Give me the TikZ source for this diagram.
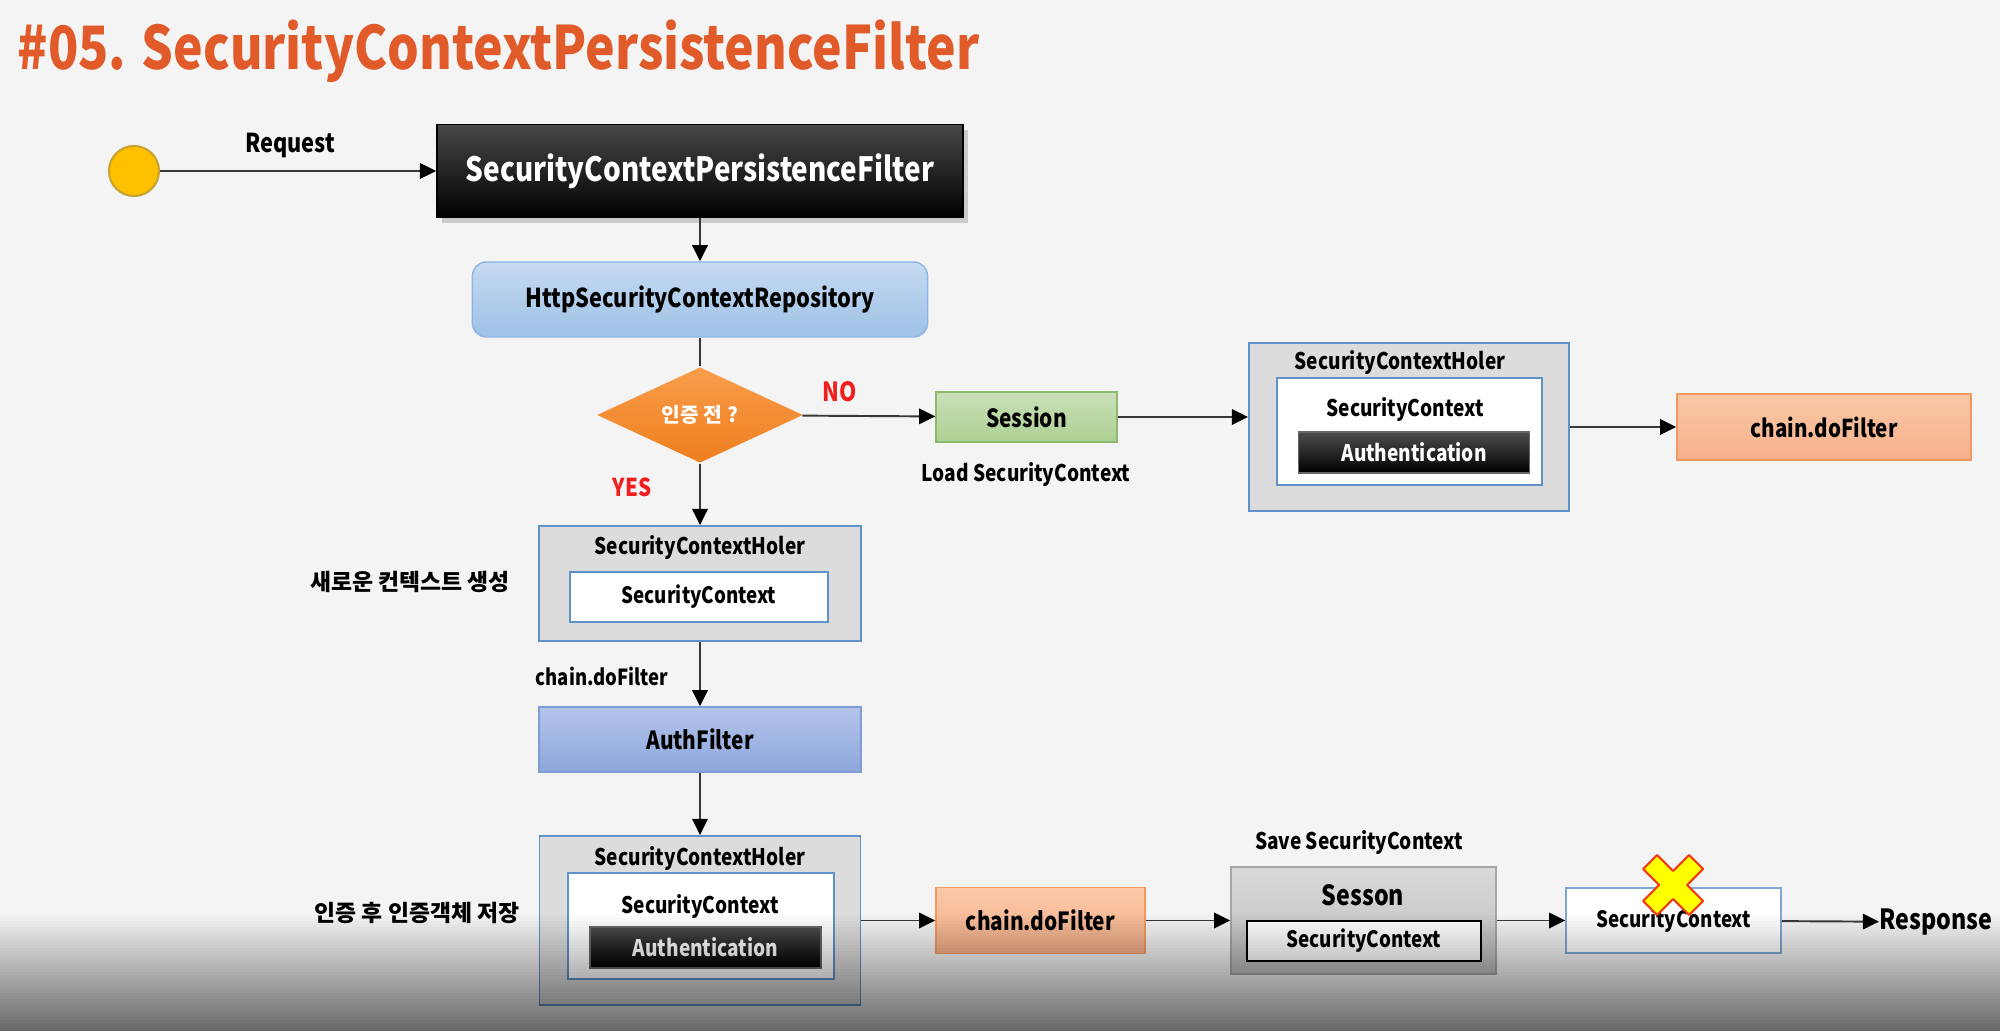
\documentclass[tikz,border=0pt]{standalone}
\usepackage{fontspec}
\setmainfont{Noto Sans CJK KR}[FakeStretch=0.835]
\newfontfamily\kr{Noto Sans CJK KR}
\usetikzlibrary{arrows.meta,shapes.geometric,shadows}
\newcommand{\pts}[1]{\fontsize{#1}{#1}\selectfont}
\definecolor{bgc}{HTML}{F4F4F4}
\definecolor{titlec}{HTML}{E05A2A}
\definecolor{dotc}{HTML}{FFC000}
\definecolor{dotl}{HTML}{C8A232}
\definecolor{repot}{HTML}{C6DAF2}
\definecolor{repob}{HTML}{9DC1E6}
\definecolor{repol}{HTML}{8DB4E2}
\definecolor{askt}{HTML}{F99D4B}
\definecolor{askb}{HTML}{EE7E1E}
\definecolor{sesst}{HTML}{C9E0B7}
\definecolor{sessb}{HTML}{ADD093}
\definecolor{sessl}{HTML}{8CB870}
\definecolor{holdc}{HTML}{DCDCDC}
\definecolor{holdl}{HTML}{5E92C8}
\definecolor{chaint}{HTML}{FAC8A8}
\definecolor{chainb}{HTML}{F6B089}
\definecolor{chainl}{HTML}{F29A5E}
\definecolor{autht}{HTML}{B3C4EA}
\definecolor{authb}{HTML}{8DA7DC}
\definecolor{authl}{HTML}{7E9CD6}
\definecolor{ssont}{HTML}{D9D9D9}
\definecolor{ssonb}{HTML}{BDBDBD}
\definecolor{noc}{HTML}{F01E1E}
\definecolor{xfill}{HTML}{FFFF00}
\definecolor{xline}{HTML}{F03C14}

\begin{document}
\begin{tikzpicture}[x=0.01cm, y=-0.01cm,
    >={Triangle[length=4.6pt, width=4.4pt, color=black]},
    box/.style={draw, inner sep=0pt, text centered, text=black, font=\bfseries\pts{7}},
    holder/.style={box, fill=holdc, draw=holdl, line width=0.5pt},
    inbox/.style={box, fill=white, draw=holdl, line width=0.5pt},
    authbox/.style={box, top color=black!70, middle color=black, bottom color=black,
                    draw=black!60, text=white, font=\bfseries\pts{6.5},
                    minimum width=2.31cm, minimum height=0.41cm},
    chainbox/.style={box, top color=chaint, bottom color=chainb, draw=chainl,
                     minimum height=0.66cm},
    lbl/.style={inner sep=0pt, font=\bfseries\pts{6.5}},
    krlbl/.style={inner sep=0pt, font=\kr\bfseries\pts{6.5}},
    flow/.style={every edge/.append style={draw=black!78, line width=0.55pt}}]
	\fill[bgc] (0,0) rectangle (2000,1031);
	\useasboundingbox (0,0) rectangle (2000,1031);

	\node[anchor=base west, inner sep=0pt, text=titlec, font=\bfseries\pts{17}] (title) at (17,70) {\#05. SecurityContextPersistenceFilter};

	\node[circle, fill=dotc, draw=dotl, line width=0.6pt, minimum size=0.5cm, inner sep=0pt] (dot) at (134,171) {};
	\node[lbl, font=\bfseries\pts{7.4}] (reqlbl) at (290,146) {Request};
	\node[box, top color=black!72, middle color=black, bottom color=black, draw=black,
	      text=white, font=\bfseries\pts{9.5}, minimum width=5.26cm, minimum height=0.93cm,
	      drop shadow={opacity=0.35, shadow xshift=1.5pt, shadow yshift=-1.5pt}] (filt) at (700,171) {SecurityContextPersistenceFilter};
	\node[box, rounded corners=4pt, top color=repot, bottom color=repob, draw=repol,
	      font=\bfseries\pts{7.4}, minimum width=4.55cm, minimum height=0.75cm] (repo) at (700,299.5) {HttpSecurityContextRepository};
	\node[diamond, inner sep=0pt, minimum width=2.06cm, minimum height=0.87cm,
	      top color=askt, bottom color=askb, text=white, font=\kr\bfseries\pts{5.8}] (ask) at (700,415) {인증 전 ?};

	% NO: load from session
	\node[lbl, text=noc, font=\bfseries\pts{7.5}] (no) at (840,392) {NO};
	\node[box, top color=sesst, bottom color=sessb, draw=sessl, minimum width=1.81cm,
	      minimum height=0.50cm, font=\bfseries\pts{7.1}] (sess) at (1026.5,417) {Session};
	\node[lbl] (load) at (1026,475) {Load SecurityContext};
	\node[holder, minimum width=3.20cm, minimum height=1.68cm] (hold1) at (1409,427) {};
	\node[lbl] (hlbl1) at (1400,363) {SecurityContextHoler};
	\node[inbox, minimum width=2.65cm, minimum height=1.07cm] (ctx1) at (1409.5,431.5) {};
	\node[lbl] (ctxlbl1) at (1405,410) {SecurityContext};
	\node[authbox] (auth1) at (1414,452.5) {Authentication};
	\node[chainbox, minimum width=2.94cm] (chain1) at (1824,427) {chain.doFilter};

	% YES: new context
	\node[lbl, text=noc, font=\bfseries\pts{7}] (yes) at (632,487) {YES};
	\node[holder, minimum width=3.22cm, minimum height=1.15cm] (hold2) at (700,583.5) {};
	\node[lbl] (hlbl2) at (700,548) {SecurityContextHoler};
	\node[inbox, minimum width=2.58cm, minimum height=0.50cm, font=\bfseries\pts{6.4}] (ctx2) at (699,597) {SecurityContext};
	\node[krlbl] (new) at (410,582) {새로운 컨텍스트 생성};
	\node[lbl, font=\bfseries\pts{6.3}] (dolbl) at (602,676) {chain.doFilter};
	\node[box, top color=autht, bottom color=authb, draw=authl, minimum width=3.22cm,
	      minimum height=0.65cm, font=\bfseries\pts{7.1}] (authf) at (700,739.5) {AuthFilter};

	% after authentication
	\node[holder, minimum width=3.21cm, minimum height=1.69cm] (hold3) at (700,920.5) {};
	\node[lbl] (hlbl3) at (700,859) {SecurityContextHoler};
	\node[inbox, minimum width=2.66cm, minimum height=1.06cm] (ctx3) at (701,926) {};
	\node[lbl] (ctxlbl3) at (700,907) {SecurityContext};
	\node[authbox] (auth3) at (705.5,947.5) {Authentication};
	\node[krlbl] (saved) at (417,913) {인증 후 인증객체 저장};
	\node[chainbox, minimum width=2.09cm, font=\bfseries\pts{7.1}] (chain2) at (1040.5,920.5) {chain.doFilter};
	\node[lbl] (savelbl) at (1359,843) {Save SecurityContext};
	\node[box, top color=ssont, bottom color=ssonb, draw=black!35, minimum width=2.65cm,
	      minimum height=1.07cm] (sson) at (1363.5,920.5) {};
	\node[lbl, font=\bfseries\pts{7.9}] (ssonlbl) at (1363,895) {Sesson};
	\node[box, fill=white, draw=black, line width=0.7pt, minimum width=2.34cm,
	      minimum height=0.40cm, font=\bfseries\pts{6.4}] (sctx) at (1364,941) {SecurityContext};
	\node[box, fill=white, draw=holdl!80, line width=0.4pt, minimum width=2.15cm,
	      minimum height=0.65cm, font=\bfseries\pts{6.4}] (wbox) at (1673.5,920.5) {SecurityContext};
	\node[lbl, anchor=west, font=\bfseries\pts{7.9}] (resp) at (1879,922) {Response};

	\begin{scope}[shift={(1673,885)}]
	\draw[fill=xfill, draw=xline, line width=0.6pt, line join=round]
	  (14,0) -- (30,16) -- (16,30) -- (0,14) -- (-16,30) -- (-30,16) -- (-14,0)
	  -- (-30,-16) -- (-16,-30) -- (0,-14) -- (16,-30) -- (30,-16) -- cycle;
	\end{scope}

	\path[->, flow] (dot)    edge   (filt);
	\path[->, flow] (filt)   edge   (repo);
	\path[-, flow]  (repo)   edge   (ask);
	\path[->, flow] (ask)    edge   (sess);
	\path[->, flow] (sess.east) edge (sess.east -| hold1.west);
	\path[->, flow] (hold1)  edge   (chain1);
	\path[->, flow] (ask)    edge   (hold2);
	\path[->, flow] (hold2)  edge   (authf);
	\path[->, flow] (authf)  edge   (hold3);
	\path[->, flow] (hold3)  edge   (chain2);
	\path[->, flow] (chain2) edge   (sson);
	\path[->, flow] (sson)   edge   (wbox);
	\path[->, flow] (wbox)   edge   (resp);

	% darkening band along the bottom
	\foreach \i [evaluate=\i as \op using 0.57*\i/39,
	             evaluate=\i as \yy using 912+3*\i] in {1,...,39}
	  \fill[black, opacity=\op] (0,\yy) rectangle (2000,\yy+3);
\end{tikzpicture}
\end{document}
